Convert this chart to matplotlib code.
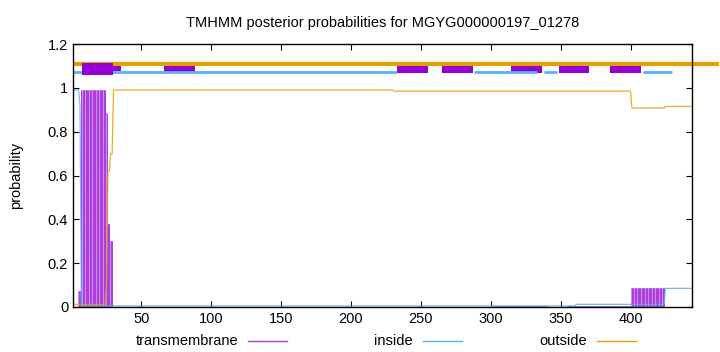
"""TMHMM posterior probability plot for MGYG000000197_01278."""

import matplotlib

matplotlib.use("Agg")
import matplotlib.pyplot as plt
import numpy as np
from matplotlib.lines import Line2D
from matplotlib.ticker import FuncFormatter

plt.rcParams["font.family"] = ["Liberation Sans", "DejaVu Sans"]
plt.rcParams["font.size"] = 10.5

SEQ_LEN = 444

# posterior runs: (first residue, last residue, probability)
TM_RUNS = [(1, 4, 0.0), (5, 6, 0.074), (7, 24, 0.99), (25, 25, 0.885),
           (26, 27, 0.38), (28, 29, 0.30), (30, 300, 0.002), (301, 340, 0.004),
           (341, 354, 0.002), (355, 400, 0.004), (401, 424, 0.085), (425, 444, 0.0)]
INSIDE_RUNS = [(1, 5, 0.99), (6, 6, 0.92), (7, 360, 0.005), (361, 424, 0.012),
               (425, 444, 0.085)]
OUTSIDE_RUNS = [(1, 24, 0.012), (25, 25, 0.1), (26, 27, 0.62), (28, 29, 0.70),
                (30, 230, 0.99), (231, 400, 0.985), (401, 424, 0.908),
                (425, 444, 0.915)]

# predicted topology along the top
TM_BOXES = [(7.6, 29.8), (66.4, 88.6), (232.6, 255.0), (264.8, 287.0),
            (314.8, 336.4), (348.6, 370.5), (385.0, 407.6)]
TM_BOX_EXTRA = (29.8, 35.7)
INSIDE_SEGS = [(1, 232.6), (287.9, 333.4), (337.9, 347.1), (408.6, 430.0)]
OUTSIDE_SEG = (1, 463)

C_TM = "#9400D3"
C_IN = "#56B4E9"
C_OUT = "#E69F00"


def expand(runs):
    vals = np.zeros(SEQ_LEN)
    for a, b, v in runs:
        vals[a - 1:b] = v
    return vals


res = np.arange(1, SEQ_LEN + 1)
tm = expand(TM_RUNS)
inside = expand(INSIDE_RUNS)
outside = expand(OUTSIDE_RUNS)

fig = plt.figure(figsize=(7.2, 3.52), dpi=100)
ax = fig.add_axes([73 / 720, 45 / 352, 619 / 720, 263 / 352])

# transmembrane impulses
ax.bar(res, tm, width=1.0, color="#cc8eea", linewidth=0, zorder=2)
ax.vlines(res, 0, tm, color="#ab3ce2", linewidth=0.7, zorder=3)
ax.plot(res, inside, color=C_IN, linewidth=0.9, alpha=0.85, zorder=4)
ax.plot(res, outside, color=C_OUT, linewidth=0.9, alpha=0.85, zorder=4)

# topology track
ax.plot(OUTSIDE_SEG, [1.109, 1.109], color=C_OUT, linewidth=3.0,
        solid_capstyle="butt", clip_on=False, zorder=5)
for a, b in TM_BOXES[1:]:
    ax.fill_between([a, b], 1.066, 1.101, color=C_TM, linewidth=0, zorder=5)
a, b = TM_BOXES[0]
ax.fill_between([a, b], 1.058, 1.115, color=C_TM, linewidth=0, zorder=7)
ax.fill_between(TM_BOX_EXTRA, 1.078, 1.101, color=C_TM, linewidth=0, zorder=7)
for a, b in INSIDE_SEGS:
    ax.plot([a, b], [1.071, 1.071], color=C_IN, linewidth=2.0,
            solid_capstyle="butt", zorder=6)

ax.set_xlim(1, SEQ_LEN)
ax.set_ylim(0, 1.2)
ax.set_xticks(np.arange(50, 401, 50))
ax.set_yticks(np.arange(0, 1.21, 0.2))
ax.yaxis.set_major_formatter(FuncFormatter(lambda v, p: f"{v:g}"))
ax.tick_params(direction="in", length=4, width=0.8, top=True, right=True)
for s in ax.spines.values():
    s.set_linewidth(1.0)
    s.set_zorder(8)

ax.set_ylabel("probability", labelpad=18)
ax.set_title("TMHMM posterior probabilities for MGYG000000197_01278",
             fontsize=10.5, pad=12)

# legend row below the axis
legend_items = [("transmembrane", "#a040d0", 238), ("inside", C_IN, 413),
                ("outside", C_OUT, 587)]
ly = 1 - 341 / 352
for label, color, xr in legend_items:
    fig.text(xr / 720, ly, label, ha="right", va="center")
    fig.add_artist(Line2D([(xr + 10) / 720, (xr + 49) / 720], [ly, ly],
                          color=color, linewidth=1.0))

fig.savefig("out.png", dpi=100)
